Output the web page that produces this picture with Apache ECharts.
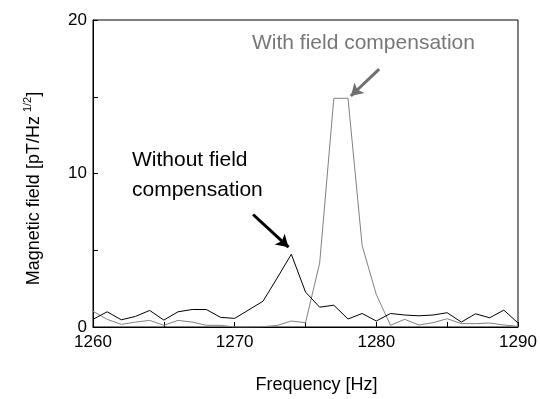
<!DOCTYPE html>
<html>
<head>
<meta charset="utf-8">
<script src="https://cdn.jsdelivr.net/npm/echarts@6/dist/echarts.min.js"></script>
<style>
  html, body { margin: 0; padding: 0; background: #fff; }
  #chart { width: 541px; height: 399px; }
</style>
</head>
<body>
<div id="chart"></div>
<script>
// Frequency grid in Hz
const frequency = [1260, 1261, 1262, 1263, 1264, 1265, 1266, 1267, 1268, 1269, 1270,
                   1271, 1272, 1273, 1274, 1275, 1276, 1277, 1278, 1279, 1280,
                   1281, 1282, 1283, 1284, 1285, 1286, 1287, 1288, 1289, 1290];

// Noise spectrum without field compensation [pT/Hz^1/2]
const withoutComp = [0.50, 0.99, 0.47, 0.69, 1.08, 0.45, 0.99, 1.14, 1.14, 0.63, 0.56,
                     1.12, 1.68, 3.19, 4.74, 2.28, 1.29, 1.42, 0.52, 0.88, 0.39,
                     0.88, 0.78, 0.73, 0.78, 0.93, 0.32, 0.86, 0.60, 1.10, 0.26];

// Noise spectrum with field compensation [pT/Hz^1/2]
const withComp = [1.03, 0.50, 0.17, 0.32, 0.43, 0.11, 0.43, 0.32, 0.11, 0.11, 0.00,
                  0.00, 0.02, 0.10, 0.39, 0.28, 4.16, 14.9, 14.9, 5.30, 2.11,
                  0.11, 0.50, 0.13, 0.28, 0.54, 0.22, 0.22, 0.26, 0.13, 0.04];

// Annotation arrows, [from, to] in data coordinates
const arrowWithout = [[1271.3, 7.33], [1273.8, 5.2]];
const arrowWith = [[1280.2, 16.8], [1278.2, 15.05]];

const pairs = (xs, ys) => xs.map((x, i) => [x, ys[i]]);
const FONT = 'Liberation Sans, Arial, sans-serif';

const chart = echarts.init(document.getElementById('chart'));
chart.setOption({
  animation: false,
  backgroundColor: '#fff',
  grid: {
    left: 93, right: 23, top: 20, bottom: 70,
    show: true, borderColor: '#000', borderWidth: 1
  },
  xAxis: {
    type: 'value', min: 1260, max: 1290, interval: 5,
    name: 'Frequency [Hz]', nameLocation: 'middle', nameGap: 49,
    nameTextStyle: { fontFamily: FONT, fontSize: 18, color: '#000', padding: [0, 0, 0, 22] },
    axisLine: { lineStyle: { color: '#000', width: 1 } },
    axisTick: { inside: true, length: 5, lineStyle: { color: '#000' } },
    axisLabel: {
      fontFamily: FONT, fontSize: 17, color: '#000', margin: 7,
      formatter: v => (v % 10 === 0 ? String(v) : '')
    },
    splitLine: { show: false }
  },
  yAxis: {
    type: 'value', min: 0, max: 20, interval: 5,
    name: 'Magnetic field [pT/Hz{sup|1/2}]', nameLocation: 'middle', nameGap: 46,
    nameTextStyle: {
      fontFamily: FONT, fontSize: 18, color: '#000', padding: [0, 30, 0, 0],
      rich: { sup: { fontFamily: FONT, fontSize: 11, color: '#000', padding: [0, 0, 14, 4] } }
    },
    axisLine: { show: true, lineStyle: { color: '#000', width: 1 } },
    axisTick: { show: true, inside: true, length: 5, lineStyle: { color: '#000' } },
    axisLabel: {
      fontFamily: FONT, fontSize: 17, color: '#000', margin: 6,
      formatter: v => (v % 10 === 0 ? String(v) : '')
    },
    splitLine: { show: false }
  },
  series: [
    {
      name: 'With field compensation',
      type: 'line',
      data: pairs(frequency, withComp),
      showSymbol: false,
      lineStyle: { color: '#808080', width: 1 },
      z: 2,
      markLine: {
        silent: true,
        symbol: ['none', 'arrow'],
        symbolSize: [11, 12],
        label: { show: false },
        lineStyle: { color: '#707070', width: 3, type: 'solid' },
        data: [[{ coord: arrowWith[0] }, { coord: arrowWith[1] }]]
      }
    },
    {
      name: 'Without field compensation',
      type: 'line',
      data: pairs(frequency, withoutComp),
      showSymbol: false,
      lineStyle: { color: '#000', width: 1 },
      z: 3,
      markLine: {
        silent: true,
        symbol: ['none', 'arrow'],
        symbolSize: [11, 12],
        label: { show: false },
        lineStyle: { color: '#000', width: 3, type: 'solid' },
        data: [[{ coord: arrowWithout[0] }, { coord: arrowWithout[1] }]]
      }
    }
  ],
  graphic: [
    {
      type: 'text', left: 252, top: 33,
      style: { text: 'With field compensation', fontFamily: FONT, fontSize: 21, fill: '#777' }
    },
    {
      type: 'text', left: 132, top: 145,
      style: {
        text: 'Without field\ncompensation', fontFamily: FONT, fontSize: 21,
        lineHeight: 30, fill: '#000'
      }
    }
  ]
});
</script>
</body>
</html>
